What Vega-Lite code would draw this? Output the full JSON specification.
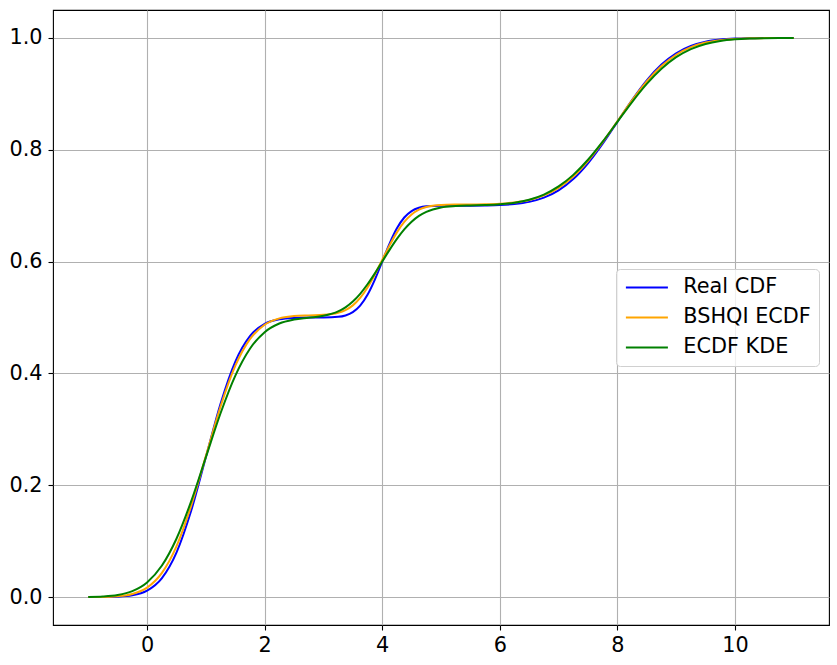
{
  "$schema": "https://vega.github.io/schema/vega-lite/v6.json",
  "width": 776,
  "height": 615,
  "autosize": "none",
  "padding": {"left": 53, "top": 10, "right": 8, "bottom": 40},
  "background": "white",
  "config": {
    "view": {"stroke": "black", "strokeWidth": 1.1},
    "axis": {
      "grid": true,
      "gridColor": "#b0b0b0",
      "gridWidth": 1.1,
      "domain": false,
      "tickColor": "black",
      "tickSize": 5,
      "tickWidth": 1.1,
      "labelFont": "DejaVu Sans",
      "labelFontSize": 20.8,
      "labelColor": "black",
      "title": null
    },
    "legend": {
      "labelFont": "DejaVu Sans",
      "labelFontSize": 20.8,
      "labelColor": "black"
    }
  },
  "data": {
    "values": [
      {"x": -1, "y": 0.0, "series": "Real CDF"},
      {"x": -0.75, "y": 0.0001, "series": "Real CDF"},
      {"x": -0.5, "y": 0.0007, "series": "Real CDF"},
      {"x": -0.25, "y": 0.0031, "series": "Real CDF"},
      {"x": 0, "y": 0.0114, "series": "Real CDF"},
      {"x": 0.25, "y": 0.0334, "series": "Real CDF"},
      {"x": 0.5, "y": 0.0794, "series": "Real CDF"},
      {"x": 0.75, "y": 0.1543, "series": "Real CDF"},
      {"x": 1, "y": 0.25, "series": "Real CDF"},
      {"x": 1.25, "y": 0.3457, "series": "Real CDF"},
      {"x": 1.5, "y": 0.4207, "series": "Real CDF"},
      {"x": 1.75, "y": 0.4666, "series": "Real CDF"},
      {"x": 2, "y": 0.4886, "series": "Real CDF"},
      {"x": 2.25, "y": 0.4969, "series": "Real CDF"},
      {"x": 2.5, "y": 0.4993, "series": "Real CDF"},
      {"x": 2.75, "y": 0.4999, "series": "Real CDF"},
      {"x": 3, "y": 0.5001, "series": "Real CDF"},
      {"x": 3.25, "y": 0.5012, "series": "Real CDF"},
      {"x": 3.375, "y": 0.5037, "series": "Real CDF"},
      {"x": 3.5, "y": 0.5096, "series": "Real CDF"},
      {"x": 3.625, "y": 0.5211, "series": "Real CDF"},
      {"x": 3.75, "y": 0.5405, "series": "Real CDF"},
      {"x": 3.875, "y": 0.5677, "series": "Real CDF"},
      {"x": 4, "y": 0.6, "series": "Real CDF"},
      {"x": 4.125, "y": 0.6323, "series": "Real CDF"},
      {"x": 4.25, "y": 0.6595, "series": "Real CDF"},
      {"x": 4.375, "y": 0.6789, "series": "Real CDF"},
      {"x": 4.5, "y": 0.6904, "series": "Real CDF"},
      {"x": 4.625, "y": 0.6963, "series": "Real CDF"},
      {"x": 4.75, "y": 0.6988, "series": "Real CDF"},
      {"x": 5, "y": 0.6999, "series": "Real CDF"},
      {"x": 5.25, "y": 0.7, "series": "Real CDF"},
      {"x": 5.5, "y": 0.7001, "series": "Real CDF"},
      {"x": 5.75, "y": 0.7004, "series": "Real CDF"},
      {"x": 6, "y": 0.7011, "series": "Real CDF"},
      {"x": 6.25, "y": 0.7029, "series": "Real CDF"},
      {"x": 6.5, "y": 0.7068, "series": "Real CDF"},
      {"x": 6.75, "y": 0.7143, "series": "Real CDF"},
      {"x": 7, "y": 0.7274, "series": "Real CDF"},
      {"x": 7.25, "y": 0.7476, "series": "Real CDF"},
      {"x": 7.5, "y": 0.7758, "series": "Real CDF"},
      {"x": 7.75, "y": 0.8109, "series": "Real CDF"},
      {"x": 8, "y": 0.85, "series": "Real CDF"},
      {"x": 8.25, "y": 0.8891, "series": "Real CDF"},
      {"x": 8.5, "y": 0.9243, "series": "Real CDF"},
      {"x": 8.75, "y": 0.9524, "series": "Real CDF"},
      {"x": 9, "y": 0.9726, "series": "Real CDF"},
      {"x": 9.25, "y": 0.9857, "series": "Real CDF"},
      {"x": 9.5, "y": 0.9932, "series": "Real CDF"},
      {"x": 9.75, "y": 0.9971, "series": "Real CDF"},
      {"x": 10, "y": 0.9989, "series": "Real CDF"},
      {"x": 10.25, "y": 0.9996, "series": "Real CDF"},
      {"x": 10.5, "y": 0.9999, "series": "Real CDF"},
      {"x": 10.75, "y": 1.0, "series": "Real CDF"},
      {"x": 11, "y": 1.0, "series": "Real CDF"},

      {"x": -1, "y": 0.0001, "series": "BSHQI ECDF"},
      {"x": -0.75, "y": 0.0003, "series": "BSHQI ECDF"},
      {"x": -0.5, "y": 0.0015, "series": "BSHQI ECDF"},
      {"x": -0.25, "y": 0.0055, "series": "BSHQI ECDF"},
      {"x": 0, "y": 0.0169, "series": "BSHQI ECDF"},
      {"x": 0.25, "y": 0.0428, "series": "BSHQI ECDF"},
      {"x": 0.5, "y": 0.0907, "series": "BSHQI ECDF"},
      {"x": 0.75, "y": 0.1631, "series": "BSHQI ECDF"},
      {"x": 1, "y": 0.252, "series": "BSHQI ECDF"},
      {"x": 1.25, "y": 0.3409, "series": "BSHQI ECDF"},
      {"x": 1.5, "y": 0.4133, "series": "BSHQI ECDF"},
      {"x": 1.75, "y": 0.4612, "series": "BSHQI ECDF"},
      {"x": 2, "y": 0.4871, "series": "BSHQI ECDF"},
      {"x": 2.25, "y": 0.4985, "series": "BSHQI ECDF"},
      {"x": 2.5, "y": 0.5025, "series": "BSHQI ECDF"},
      {"x": 2.75, "y": 0.5038, "series": "BSHQI ECDF"},
      {"x": 3, "y": 0.5047, "series": "BSHQI ECDF"},
      {"x": 3.25, "y": 0.5084, "series": "BSHQI ECDF"},
      {"x": 3.375, "y": 0.5132, "series": "BSHQI ECDF"},
      {"x": 3.5, "y": 0.5217, "series": "BSHQI ECDF"},
      {"x": 3.625, "y": 0.5351, "series": "BSHQI ECDF"},
      {"x": 3.75, "y": 0.5537, "series": "BSHQI ECDF"},
      {"x": 3.875, "y": 0.577, "series": "BSHQI ECDF"},
      {"x": 4, "y": 0.603, "series": "BSHQI ECDF"},
      {"x": 4.125, "y": 0.629, "series": "BSHQI ECDF"},
      {"x": 4.25, "y": 0.6523, "series": "BSHQI ECDF"},
      {"x": 4.375, "y": 0.6709, "series": "BSHQI ECDF"},
      {"x": 4.5, "y": 0.6843, "series": "BSHQI ECDF"},
      {"x": 4.625, "y": 0.6928, "series": "BSHQI ECDF"},
      {"x": 4.75, "y": 0.6976, "series": "BSHQI ECDF"},
      {"x": 5, "y": 0.7013, "series": "BSHQI ECDF"},
      {"x": 5.25, "y": 0.702, "series": "BSHQI ECDF"},
      {"x": 5.5, "y": 0.7022, "series": "BSHQI ECDF"},
      {"x": 5.75, "y": 0.7026, "series": "BSHQI ECDF"},
      {"x": 6, "y": 0.7036, "series": "BSHQI ECDF"},
      {"x": 6.25, "y": 0.7058, "series": "BSHQI ECDF"},
      {"x": 6.5, "y": 0.7102, "series": "BSHQI ECDF"},
      {"x": 6.75, "y": 0.7184, "series": "BSHQI ECDF"},
      {"x": 7, "y": 0.7319, "series": "BSHQI ECDF"},
      {"x": 7.25, "y": 0.7522, "series": "BSHQI ECDF"},
      {"x": 7.5, "y": 0.7799, "series": "BSHQI ECDF"},
      {"x": 7.75, "y": 0.8136, "series": "BSHQI ECDF"},
      {"x": 8, "y": 0.851, "series": "BSHQI ECDF"},
      {"x": 8.25, "y": 0.8883, "series": "BSHQI ECDF"},
      {"x": 8.5, "y": 0.9221, "series": "BSHQI ECDF"},
      {"x": 8.75, "y": 0.9497, "series": "BSHQI ECDF"},
      {"x": 9, "y": 0.97, "series": "BSHQI ECDF"},
      {"x": 9.25, "y": 0.9835, "series": "BSHQI ECDF"},
      {"x": 9.5, "y": 0.9917, "series": "BSHQI ECDF"},
      {"x": 9.75, "y": 0.9961, "series": "BSHQI ECDF"},
      {"x": 10, "y": 0.9983, "series": "BSHQI ECDF"},
      {"x": 10.25, "y": 0.9993, "series": "BSHQI ECDF"},
      {"x": 10.5, "y": 0.9997, "series": "BSHQI ECDF"},
      {"x": 10.75, "y": 0.9999, "series": "BSHQI ECDF"},
      {"x": 11, "y": 1.0, "series": "BSHQI ECDF"},

      {"x": -1, "y": 0.0003, "series": "ECDF KDE"},
      {"x": -0.75, "y": 0.0011, "series": "ECDF KDE"},
      {"x": -0.5, "y": 0.0037, "series": "ECDF KDE"},
      {"x": -0.25, "y": 0.0107, "series": "ECDF KDE"},
      {"x": 0, "y": 0.0262, "series": "ECDF KDE"},
      {"x": 0.25, "y": 0.0559, "series": "ECDF KDE"},
      {"x": 0.5, "y": 0.1043, "series": "ECDF KDE"},
      {"x": 0.75, "y": 0.1712, "series": "ECDF KDE"},
      {"x": 1, "y": 0.25, "series": "ECDF KDE"},
      {"x": 1.25, "y": 0.3288, "series": "ECDF KDE"},
      {"x": 1.5, "y": 0.3957, "series": "ECDF KDE"},
      {"x": 1.75, "y": 0.4441, "series": "ECDF KDE"},
      {"x": 2, "y": 0.4738, "series": "ECDF KDE"},
      {"x": 2.25, "y": 0.4893, "series": "ECDF KDE"},
      {"x": 2.5, "y": 0.4964, "series": "ECDF KDE"},
      {"x": 2.75, "y": 0.4997, "series": "ECDF KDE"},
      {"x": 3, "y": 0.503, "series": "ECDF KDE"},
      {"x": 3.25, "y": 0.5109, "series": "ECDF KDE"},
      {"x": 3.375, "y": 0.5182, "series": "ECDF KDE"},
      {"x": 3.5, "y": 0.5286, "series": "ECDF KDE"},
      {"x": 3.625, "y": 0.5424, "series": "ECDF KDE"},
      {"x": 3.75, "y": 0.5594, "series": "ECDF KDE"},
      {"x": 3.875, "y": 0.579, "series": "ECDF KDE"},
      {"x": 4, "y": 0.6, "series": "ECDF KDE"},
      {"x": 4.125, "y": 0.621, "series": "ECDF KDE"},
      {"x": 4.25, "y": 0.6406, "series": "ECDF KDE"},
      {"x": 4.375, "y": 0.6576, "series": "ECDF KDE"},
      {"x": 4.5, "y": 0.6714, "series": "ECDF KDE"},
      {"x": 4.625, "y": 0.6818, "series": "ECDF KDE"},
      {"x": 4.75, "y": 0.689, "series": "ECDF KDE"},
      {"x": 5, "y": 0.6968, "series": "ECDF KDE"},
      {"x": 5.25, "y": 0.6993, "series": "ECDF KDE"},
      {"x": 5.5, "y": 0.7003, "series": "ECDF KDE"},
      {"x": 5.75, "y": 0.701, "series": "ECDF KDE"},
      {"x": 6, "y": 0.7024, "series": "ECDF KDE"},
      {"x": 6.25, "y": 0.7053, "series": "ECDF KDE"},
      {"x": 6.5, "y": 0.7107, "series": "ECDF KDE"},
      {"x": 6.75, "y": 0.7199, "series": "ECDF KDE"},
      {"x": 7, "y": 0.7344, "series": "ECDF KDE"},
      {"x": 7.25, "y": 0.7551, "series": "ECDF KDE"},
      {"x": 7.5, "y": 0.7822, "series": "ECDF KDE"},
      {"x": 7.75, "y": 0.8146, "series": "ECDF KDE"},
      {"x": 8, "y": 0.85, "series": "ECDF KDE"},
      {"x": 8.25, "y": 0.8854, "series": "ECDF KDE"},
      {"x": 8.5, "y": 0.9178, "series": "ECDF KDE"},
      {"x": 8.75, "y": 0.9449, "series": "ECDF KDE"},
      {"x": 9, "y": 0.9656, "series": "ECDF KDE"},
      {"x": 9.25, "y": 0.9801, "series": "ECDF KDE"},
      {"x": 9.5, "y": 0.9893, "series": "ECDF KDE"},
      {"x": 9.75, "y": 0.9947, "series": "ECDF KDE"},
      {"x": 10, "y": 0.9976, "series": "ECDF KDE"},
      {"x": 10.25, "y": 0.999, "series": "ECDF KDE"},
      {"x": 10.5, "y": 0.9996, "series": "ECDF KDE"},
      {"x": 10.75, "y": 0.9999, "series": "ECDF KDE"},
      {"x": 11, "y": 1.0, "series": "ECDF KDE"}
    ]
  },
  "mark": {"type": "line", "interpolate": "monotone", "strokeWidth": 2},
  "encoding": {
    "x": {
      "field": "x",
      "type": "quantitative",
      "scale": {"domain": [-1.6, 11.6], "nice": false, "zero": false},
      "axis": {"values": [0, 2, 4, 6, 8, 10], "labelPadding": 5}
    },
    "y": {
      "field": "y",
      "type": "quantitative",
      "scale": {"domain": [-0.05, 1.05], "nice": false, "zero": false},
      "axis": {"values": [0, 0.2, 0.4, 0.6, 0.8, 1.0], "format": ".1f", "labelPadding": 6}
    },
    "color": {
      "field": "series",
      "type": "nominal",
      "sort": ["Real CDF", "BSHQI ECDF", "ECDF KDE"],
      "scale": {
        "domain": ["Real CDF", "BSHQI ECDF", "ECDF KDE"],
        "range": ["#0000ff", "#ffa500", "#008000"]
      },
      "legend": {
        "title": null,
        "orient": "none",
        "legendX": 563,
        "legendY": 259,
        "padding": 8,
        "fillColor": "rgba(255,255,255,0.8)",
        "strokeColor": "#d0d0d0",
        "cornerRadius": 4,
        "symbolType": "M-3,0H3",
        "symbolSize": 196,
        "symbolStrokeWidth": 2,
        "symbolOffset": 12.5,
        "labelOffset": 26,
        "rowPadding": 8
      }
    }
  }
}
